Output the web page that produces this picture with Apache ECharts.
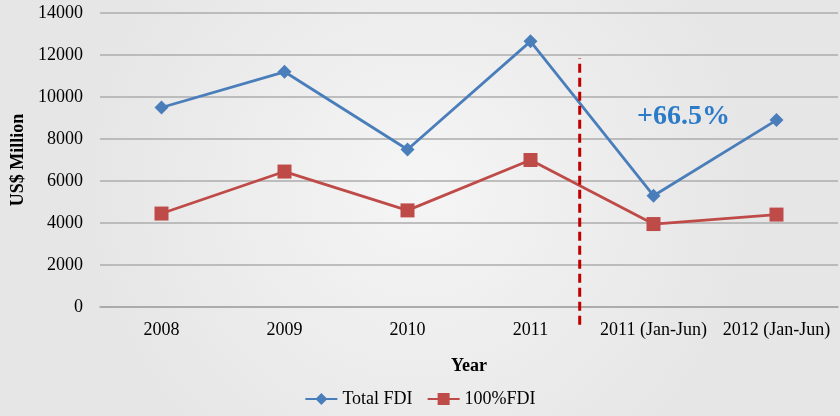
<!DOCTYPE html>
<html>
<head>
<meta charset="utf-8">
<script src="https://cdn.jsdelivr.net/npm/echarts@6/dist/echarts.min.js"></script>
<style>
  html, body { margin: 0; padding: 0; }
  #chart { width: 840px; height: 416px; }
</style>
</head>
<body>
<div id="chart"></div>
<script>
const categories = ['2008', '2009', '2010', '2011', '2011 (Jan-Jun)', '2012 (Jan-Jun)'];
const totalFdi = [9500, 11200, 7500, 12650, 5300, 8900];
const fullFdi = [4450, 6450, 4600, 7000, 3950, 4400];
// dashed divider, in category units (0 = first category)
const dividerX = 3.4;
const dividerY = [-850, 11850];

const chart = echarts.init(document.getElementById('chart'));
const font = '"Liberation Serif", "Times New Roman", serif';

const option = {
  backgroundColor: {
    type: 'radial', x: 0.5, y: 0.45, r: 0.8,
    colorStops: [
      { offset: 0, color: '#f5f5f5' },
      { offset: 1, color: '#e6e6e6' },
    ],
  },
  textStyle: { fontFamily: font },
  grid: { left: 100, right: 2, top: 13, bottom: 109, outerBoundsMode: 'none' },
  legend: {
    data: ['Total FDI', '100%FDI'],
    bottom: 3,
    left: 'center',
    itemWidth: 32,
    itemHeight: 15,
    itemGap: 14,
    textStyle: { fontFamily: font, fontSize: 18, color: '#000' },
  },
  xAxis: [
    {
      type: 'category',
      data: categories,
      name: 'Year',
      nameLocation: 'middle',
      nameGap: 50,
      nameTextStyle: { fontFamily: font, fontSize: 18, fontWeight: 'bold', color: '#000' },
      axisLine: { lineStyle: { color: '#a6a6a6', width: 1.5 } },
      axisTick: { show: false },
      axisLabel: { fontFamily: font, fontSize: 18, color: '#000', margin: 14, interval: 0 },
    },
    {
      type: 'value',
      min: -0.5,
      max: 5.5,
      show: false,
    },
  ],
  yAxis: {
    type: 'value',
    min: 0,
    max: 14000,
    interval: 2000,
    name: 'US$ Million',
    nameLocation: 'middle',
    nameGap: 68,
    nameTextStyle: { fontFamily: font, fontSize: 18, fontWeight: 'bold', color: '#000' },
    axisLine: { show: false },
    axisTick: { show: false },
    axisLabel: {
      fontFamily: font, fontSize: 18, color: '#000', margin: 17,
      formatter: (v) => String(v),
    },
    splitLine: { lineStyle: { color: '#adadad', width: 1.5 } },
  },
  series: [
    {
      name: 'Total FDI',
      type: 'line',
      data: totalFdi,
      symbol: 'diamond',
      symbolSize: 14,
      itemStyle: { color: '#4a7ebb' },
      lineStyle: { color: '#4a7ebb', width: 2.8 },
      z: 3,
    },
    {
      name: '100%FDI',
      type: 'line',
      data: fullFdi,
      symbol: 'rect',
      symbolSize: 14,
      itemStyle: { color: '#be4b48' },
      lineStyle: { color: '#be4b48', width: 2.8 },
      z: 3,
    },
  ],
};
chart.setOption(option);

// divider line and annotation placed through the axes
const p0 = chart.convertToPixel({ xAxisIndex: 1, yAxisIndex: 0 }, [dividerX, dividerY[0]]);
const p1 = chart.convertToPixel({ xAxisIndex: 1, yAxisIndex: 0 }, [dividerX, dividerY[1]]);
chart.setOption({
  graphic: [
    {
      type: 'line',
      shape: { x1: p0[0], y1: p0[1], x2: p1[0], y2: p1[1] },
      style: { stroke: '#c00000', lineWidth: 3, lineDash: [9, 5] },
      z: 10,
    },
    {
      type: 'text',
      left: 637,
      top: 103,
      style: {
        text: '+66.5%',
        fill: '#2b7bc8',
        fontFamily: font,
        fontSize: 28,
        fontWeight: 'bold',
      },
    },
  ],
});
</script>
</body>
</html>
